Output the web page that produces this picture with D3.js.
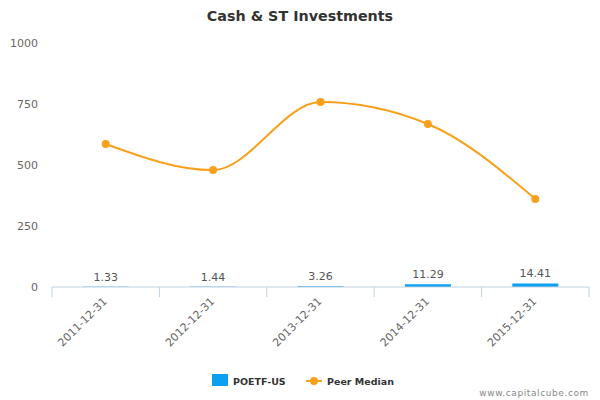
<!DOCTYPE html>
<html><head><meta charset="utf-8">
<script src="https://cdn.jsdelivr.net/npm/d3@7"></script>
<style>body{margin:0;background:#fff}svg{font-family:"DejaVu Sans",sans-serif}</style>
</head><body><svg id="c" width="600" height="400"></svg>
<script>
const categories = ["2011-12-31","2012-12-31","2013-12-31","2014-12-31","2015-12-31"];
const companyValues = [1.33, 1.44, 3.26, 11.29, 14.41];
const peerMedian = [586, 479, 758, 668, 361];
const yTicks = [0, 250, 500, 750, 1000];

(function () {
const svg = d3.select("#c");
const pLeft = 52, pRight = 589, pTop = 43, pBottom = 287;
const x = d3.scaleBand().domain(categories).range([pLeft, pRight]);
const y = d3.scaleLinear().domain([0, 1000]).range([pBottom, pTop]);

svg.append("text").attr("x", 300).attr("y", 21).attr("text-anchor", "middle")
  .attr("font-size", 14.3).attr("font-weight", "bold").attr("fill", "#333").text("Cash & ST Investments");

svg.selectAll(".yl").data(yTicks).enter().append("text")
  .attr("x", 38).attr("y", d => y(d) + 4).attr("text-anchor", "end")
  .attr("font-size", 11).attr("fill", "#666").text(d => d);

const bw = 46;
svg.selectAll(".bar").data(companyValues).enter().append("rect")
  .attr("x", (d, i) => x(categories[i]) + x.bandwidth() / 2 - bw / 2)
  .attr("y", d => y(d)).attr("width", bw).attr("height", d => pBottom - y(d))
  .attr("fill", "#0BA0F0");

svg.selectAll(".bl").data(companyValues).enter().append("text")
  .attr("x", (d, i) => x(categories[i]) + x.bandwidth() / 2)
  .attr("y", d => y(d) - 6).attr("text-anchor", "middle")
  .attr("font-size", 11).attr("fill", "#555").text(d => d.toFixed(2));

const xa = svg.append("g").attr("transform", `translate(0,${pBottom})`);
xa.append("line").attr("x1", pLeft).attr("x2", pRight).attr("stroke", "#C0D0E0");
const bounds = categories.map(c => x(c)).concat([pRight]);
xa.selectAll(".tk").data(bounds).enter().append("line")
  .attr("x1", d => d).attr("x2", d => d).attr("y1", 0).attr("y2", 10).attr("stroke", "#C0D0E0");
xa.selectAll(".xl").data(categories).enter().append("text")
  .attr("transform", d => `translate(${x(d) + x.bandwidth() / 2 + 2},${15}) rotate(-45)`)
  .attr("text-anchor", "end").attr("font-size", 11).attr("fill", "#666").text(d => d);

const pts = peerMedian.map((v, i) => [x(categories[i]) + x.bandwidth() / 2, y(v)]);
svg.append("path").attr("d", d3.line().curve(d3.curveMonotoneX)(pts))
  .attr("fill", "none").attr("stroke", "#F8A01C").attr("stroke-width", 2);
svg.selectAll(".pt").data(pts).enter().append("circle")
  .attr("cx", d => d[0]).attr("cy", d => d[1]).attr("r", 4).attr("fill", "#F8A01C");

svg.append("rect").attr("x", 212).attr("y", 374).attr("width", 16).attr("height", 12).attr("fill", "#0BA0F0");
svg.append("text").attr("x", 233).attr("y", 385).attr("font-size", 9.5).attr("font-weight", "bold").attr("fill", "#333").text("POETF-US");
svg.append("line").attr("x1", 306).attr("x2", 322).attr("y1", 381).attr("y2", 381).attr("stroke", "#F8A01C").attr("stroke-width", 2);
svg.append("circle").attr("cx", 314).attr("cy", 381).attr("r", 4).attr("fill", "#F8A01C");
svg.append("text").attr("x", 327).attr("y", 385).attr("font-size", 9.5).attr("font-weight", "bold").attr("fill", "#333").text("Peer Median");
svg.append("text").attr("x", 589).attr("y", 396).attr("text-anchor", "end").attr("font-size", 9).attr("fill", "#888").attr("letter-spacing", 0.6).text("www.capitalcube.com");
})();
</script></body></html>
